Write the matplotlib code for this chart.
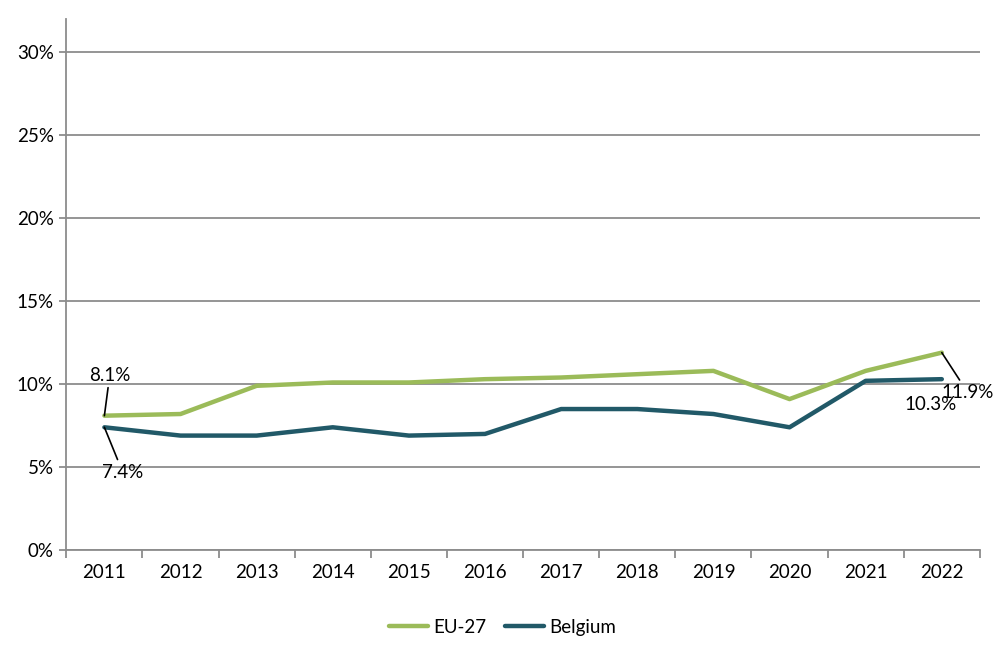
import numpy as np
import matplotlib.pyplot as plt
from matplotlib.ticker import FixedLocator, PercentFormatter

# Share of people in the group, EU-27 vs Belgium (%)
years = ["2011", "2012", "2013", "2014", "2015", "2016",
         "2017", "2018", "2019", "2020", "2021", "2022"]
eu27 = [8.1, 8.2, 9.9, 10.1, 10.1, 10.3, 10.4, 10.6, 10.8, 9.1, 10.8, 11.9]
belgium = [7.4, 6.9, 6.9, 7.4, 6.9, 7.0, 8.5, 8.5, 8.2, 7.4, 10.2, 10.3]

green = "#9BBB59"
teal = "#215968"
grey = "#8C8C8C"

plt.rcParams['font.family'] = ['Lato', 'DejaVu Sans']
fs = 13.5

fig = plt.figure(figsize=(10.05, 6.58), dpi=100)
ax = fig.add_axes([0.066, 0.164, 0.909, 0.807])

x = np.arange(len(years))
ax.plot(x, eu27, color=green, lw=3.2, label="EU-27", solid_capstyle="round", zorder=3)
ax.plot(x, belgium, color=teal, lw=3.2, label="Belgium", solid_capstyle="round", zorder=3)

ax.set_xlim(-0.5, len(years) - 0.5)
ax.set_ylim(0, 32)
ax.set_yticks(np.arange(0, 31, 5))
ax.yaxis.set_major_formatter(PercentFormatter(decimals=0))
ax.set_xticks(x)
ax.set_xticklabels(years)
ax.xaxis.set_minor_locator(FixedLocator(np.arange(-0.5, len(years), 1)))

ax.grid(axis="y", color=grey, lw=1.3, zorder=0)
for side in ["top", "right"]:
    ax.spines[side].set_visible(False)
for side in ["left", "bottom"]:
    ax.spines[side].set_color(grey)
    ax.spines[side].set_linewidth(1.3)

ax.tick_params(axis="x", which="major", length=0, pad=10, labelsize=fs)
ax.tick_params(axis="x", which="minor", length=6, width=1.3, color=grey)
ax.tick_params(axis="y", length=5, width=1.3, color=grey, labelsize=fs, pad=4)

# data labels at the ends
lbl = dict(fontsize=fs, color="black", ha="center", va="center")
line = dict(arrowstyle="-", color="black", lw=1.2, shrinkA=1, shrinkB=0)
ax.annotate(f"{eu27[0]}%", xy=(x[0], eu27[0]), xytext=(x[0] + 0.07, eu27[0] + 2.45),
            arrowprops=line, **lbl)
ax.annotate(f"{belgium[0]}%", xy=(x[0], belgium[0]), xytext=(x[0] + 0.24, belgium[0] - 2.7),
            arrowprops=line, **lbl)
ax.annotate(f"{eu27[-1]}%", xy=(x[-1], eu27[-1]), xytext=(x[-1] + 0.34, eu27[-1] - 2.4),
            arrowprops=line, **lbl)
ax.annotate(f"{belgium[-1]}%", xy=(x[-1], belgium[-1]), xytext=(x[-1] - 0.15, belgium[-1] - 1.55),
            **lbl)

fig.legend(loc="center", bbox_to_anchor=(0.5, 0.047), ncol=2, frameon=False,
           fontsize=fs, handlelength=2.1, handletextpad=0.27, columnspacing=1.0)

fig.savefig("out.png", dpi=100)
